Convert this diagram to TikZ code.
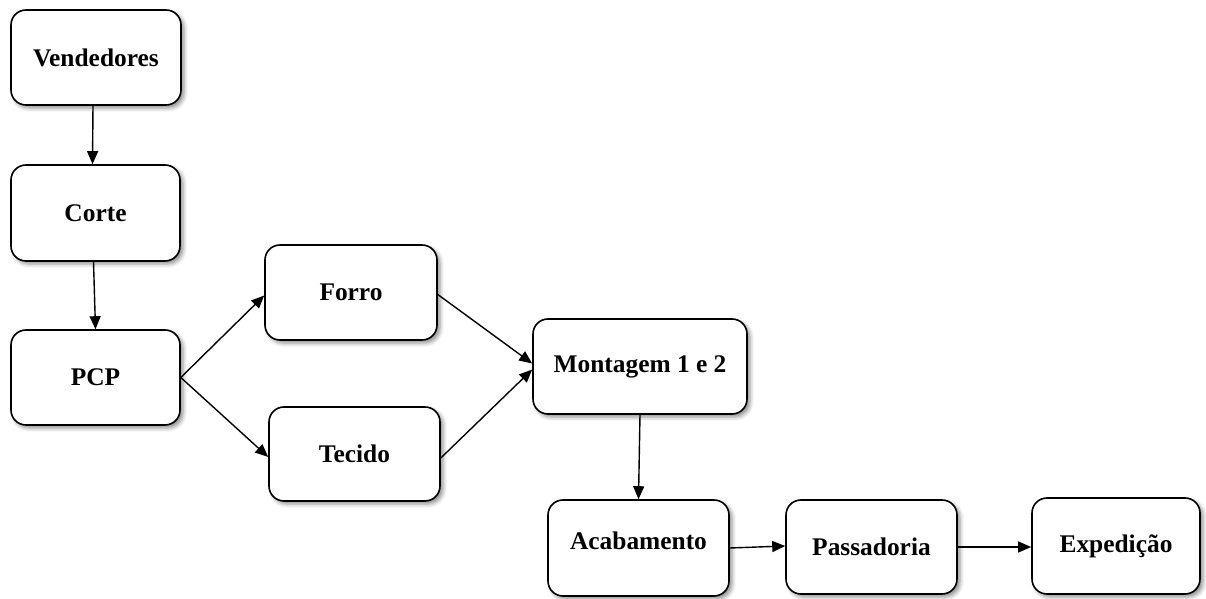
\documentclass[tikz,border=0pt]{standalone}
\usepackage{fontspec}
\setmainfont{Liberation Serif}
\usetikzlibrary{arrows.meta,shadows.blur}
\tikzset{
  box/.style={draw=black, line width=0.8pt, rounded corners=7.5pt, fill=white,
    blur shadow={shadow xshift=1.5pt, shadow yshift=-1.5pt, shadow blur radius=2pt, shadow opacity=45},
    font=\fontsize{12.7pt}{14pt}\selectfont\bfseries, align=center, inner sep=0pt},
  conn/.style={draw=black, line width=0.7pt, -{Triangle[length=6.5pt,width=5.5pt]}}
}
\begin{document}
\begin{tikzpicture}[x=0.5pt,y=-0.5pt]
\useasboundingbox (0,0) rectangle (1206,599);
\node[box, minimum width=85pt, minimum height=47.5pt] (vend) at (96,57.5) {Vendedores};
\node[box, minimum width=84.5pt, minimum height=48pt] (corte) at (95.5,213) {Corte};
\node[box, minimum width=84.5pt, minimum height=47.5pt] (pcp) at (95.5,377.5) {PCP};
\node[box, minimum width=86pt, minimum height=47.5pt] (forro) at (351,292.5) {Forro};
\node[box, minimum width=85.5pt, minimum height=47pt] (tecido) at (354.5,454) {Tecido};
\node[box, minimum width=107pt, minimum height=47.5pt] (mont) at (640,366.5) {Montagem 1 e 2};
\node[box, minimum width=90.5pt, minimum height=48pt, text depth=7pt] (acab) at (638.5,548) {Acabamento};
\node[box, minimum width=85.5pt, minimum height=47pt] (pass) at (871.5,547) {Passadoria};
\node[box, minimum width=84pt, minimum height=48pt] (exped) at (1116,546) {Expedição};

\draw[conn] ([xshift=-1.5pt]vend.south) -- ([xshift=-1.5pt]corte.north);
\draw[conn] ([xshift=-1pt]corte.south) -- (pcp.north);
\draw[conn] (pcp.east) -- ([yshift=-1.5pt]forro.west);
\draw[conn] (pcp.east) -- ([yshift=-1.5pt]tecido.west);
\draw[conn] ([yshift=-1pt]forro.east) -- ([yshift=1.5pt]mont.west);
\draw[conn] ([yshift=-2pt]tecido.east) -- ([yshift=-1.5pt]mont.west);
\draw[conn] (mont.south) -- (acab.north);
\draw[conn] (acab.east) -- ([yshift=0.5pt]pass.west);
\draw[conn] (pass.east) -- (exped.west |- pass.east);
\end{tikzpicture}
\end{document}
